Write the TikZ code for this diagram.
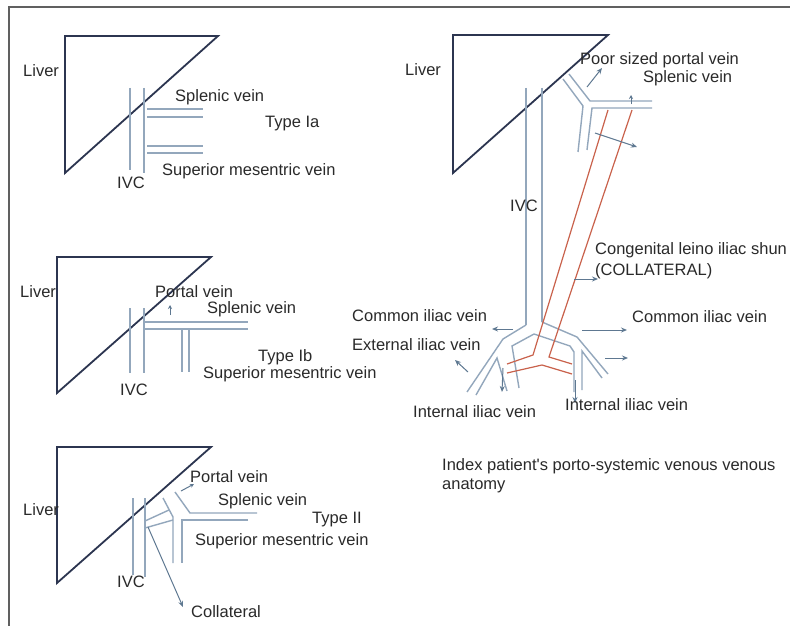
\documentclass[tikz,border=0pt]{standalone}
\usepackage{fontspec}
\setmainfont{Liberation Sans}
\usetikzlibrary{arrows.meta}
\definecolor{framec}{HTML}{606060}
\definecolor{liverc}{HTML}{2C3550}
\definecolor{veinc}{HTML}{93A7BC}
\definecolor{arrc}{HTML}{5E7891}
\definecolor{shuntc}{HTML}{C9624C}
\definecolor{txtc}{HTML}{2A2A2A}
\begin{document}
\begin{tikzpicture}[x=1pt,y=-1pt,
  lbl/.style={anchor=base west, inner sep=0pt, text=txtc, font=\fontsize{16.5}{19}\selectfont},
  liverbox/.style={draw=liverc, line width=1.8pt, line join=miter},
  vessel/.style={draw=veinc, line width=1.4pt},
  flow/.style={draw=arrc, line width=1pt, -{Stealth[length=6pt,width=5pt]}},
  redline/.style={draw=shuntc, line width=1.2pt}]
\useasboundingbox (0,0) rectangle (790,626);
\fill[white] (0,0) rectangle (790,626);
\draw[framec, line width=1.2pt] (9,626) -- (9,7) -- (790,7);

% ---------------- Panel 1: Type Ia ----------------
\draw[liverbox] (65,36) -- (218,36) -- (65,173) -- cycle;
\draw[vessel] (130,88) -- (130,170);
\draw[vessel] (144,88) -- (144,173);
\draw[vessel] (147,109) -- (203,109);
\draw[vessel] (147,117) -- (203,117);
\draw[vessel] (147,146) -- (203,146);
\draw[vessel] (147,153) -- (203,153);
\node[lbl] (liver1) at (23,77) {Liver};
\node[lbl] (spl1) at (175,102) {Splenic vein};
\node[lbl] (type1) at (265,127) {Type Ia};
\node[lbl] (smv1) at (162,175) {Superior mesentric vein};
\node[lbl] (ivc1) at (117,188) {IVC};

% ---------------- Panel 2: Type Ib ----------------
\draw[liverbox] (57,257) -- (211,257) -- (57,393) -- cycle;
\draw[vessel] (130,308) -- (130,373);
\draw[vessel] (144,308) -- (144,373);
\draw[vessel] (144,322) -- (248,322);
\draw[vessel] (144,329) -- (248,329);
\draw[vessel] (182,329) -- (182,372);
\draw[vessel] (189,329) -- (189,372);
\draw[flow, -{Stealth[length=4pt,width=4pt]}] (170,315) -- (170,305);
\node[lbl] (liver2) at (20,297) {Liver};
\node[lbl] (pv2) at (155,297) {Portal vein};
\node[lbl] (spl2) at (207,313) {Splenic vein};
\node[lbl] (type2) at (258,361) {Type Ib};
\node[lbl] (smv2) at (203,378) {Superior mesentric vein};
\node[lbl] (ivc2) at (120,395) {IVC};

% ---------------- Panel 3: Type II ----------------
\draw[liverbox] (57,447) -- (211,447) -- (57,583) -- cycle;
\draw[vessel] (133,498) -- (133,575);
\draw[vessel] (145,498) -- (145,577);
\draw[vessel] (175,492) -- (190,513) -- (257,513);
\draw[vessel] (248,520) -- (182,520) -- (182,563);
\draw[vessel] (163,498) -- (173,517) -- (173,563);
\draw[vessel] (145,521) -- (169,510);
\draw[vessel] (145,528) -- (173,520);
\draw[flow] (148,527) -- (183,607);
\draw[flow, -{Stealth[length=4pt,width=4pt]}] (181,491) -- (194,484);
\node[lbl] (liver3) at (23,515) {Liver};
\node[lbl] (pv3) at (190,482) {Portal vein};
\node[lbl] (spl3) at (218,505) {Splenic vein};
\node[lbl] (type3) at (312,523) {Type II};
\node[lbl] (smv3) at (195,545) {Superior mesentric vein};
\node[lbl] (ivc3) at (117,587) {IVC};
\node[lbl] (coll3) at (191,617) {Collateral};

% ---------------- Right panel ----------------
\draw[liverbox] (453,35) -- (608,35) -- (453,173) -- cycle;
% IVC
\draw[vessel] (526,88) -- (526,325);
\draw[vessel] (542,88) -- (542,322);
% portal / splenic / SMV
\draw[vessel] (569,74) -- (590,101) -- (652,101);
\draw[vessel] (563,79) -- (583,106) -- (578,152);
\draw[vessel] (652,108) -- (592,108) -- (587,150);
% bifurcation, left
\draw[vessel] (526,325) -- (503,339) -- (467,392);
\draw[vessel] (534,334) -- (512,346) -- (519,388);
\draw[vessel] (476,395) -- (497,358) -- (507,391);
% bifurcation, right
\draw[vessel] (542,322) -- (577,337) -- (608,374);
\draw[vessel] (534,334) -- (570,346) -- (574,352) -- (574,392);
\draw[vessel] (582,390) -- (582,351) -- (602,378);
% shunt
\draw[redline] (608,110) -- (533,355) -- (507,364);
\draw[redline] (632,110) -- (549,357) -- (572,364);
\draw[redline] (507,373) -- (542,365) -- (572,374);
% arrows
\draw[flow] (587,87) -- (602,68);
\draw[flow, -{Stealth[length=4pt,width=4pt]}] (631,104) -- (631,95);
\draw[flow] (595,133) -- (637,147);
\draw[flow] (574,279) -- (598,279);
\draw[flow] (513,329) -- (492,329);
\draw[flow] (582,330) -- (627,330);
\draw[flow] (605,358) -- (628,358);
\draw[flow] (468,372) -- (455,360);
\draw[flow] (503,368) -- (502,392);
\draw[flow] (575,380) -- (575,403);
% labels
\node[lbl] (liver4) at (405,75) {Liver};
\node[lbl] (ppv) at (580,65) {Poor sized portal vein};
\node[lbl] (spl4) at (643,83) {Splenic vein};
\node[lbl] (ivc4) at (510,211) {IVC};
\node[lbl] (shunt) at (595,254) {Congenital leino iliac shun};
\node[lbl] (collat) at (595,275) {(COLLATERAL)};
\node[lbl] (cilL) at (352,321) {Common iliac vein};
\node[lbl] (eil) at (352,350) {External iliac vein};
\node[lbl] (cilR) at (632,322) {Common iliac vein};
\node[lbl] (iilL) at (413,417) {Internal iliac vein};
\node[lbl] (iilR) at (565,410) {Internal iliac vein};
\node[lbl] (idx1) at (442,470) {Index patient\textquotesingle s porto-systemic venous venous};
\node[lbl] (idx2) at (442,489) {anatomy};
\end{tikzpicture}
\end{document}
